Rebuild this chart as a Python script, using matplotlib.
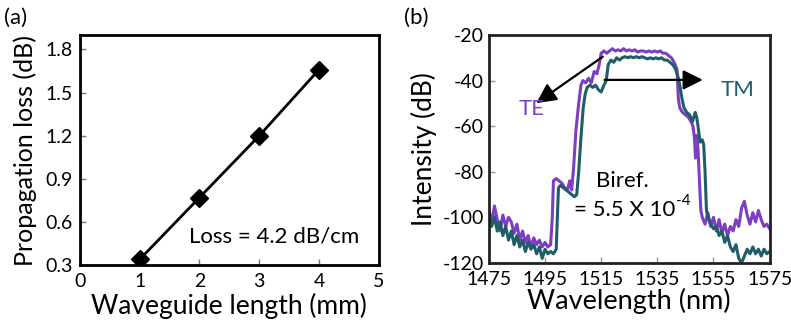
import matplotlib
matplotlib.use('Agg')
import matplotlib.pyplot as plt

plt.rcParams['font.family'] = ['Lato', 'DejaVu Sans']
plt.rcParams['axes.unicode_minus'] = False

# (a) propagation loss vs waveguide length
length_mm = [1, 2, 3, 4]
loss_db = [0.34, 0.77, 1.20, 1.66]

# (b) transmission spectra
te_wl = [1475, 1476, 1477, 1478, 1479, 1480, 1481, 1482, 1483, 1484, 1485, 1486,
         1487, 1488, 1489, 1490, 1491, 1492, 1493, 1494, 1495, 1496, 1497, 1497.6,
         1498, 1499, 1500, 1501, 1502, 1503, 1503.8, 1504.5, 1505.2, 1506, 1507,
         1507.8, 1508.5, 1509.5, 1510.5, 1511.5, 1512.5, 1513.5, 1514.3, 1515,
         1516, 1517, 1518, 1519, 1520, 1521, 1522, 1523, 1524, 1525, 1526, 1527,
         1528, 1529, 1530, 1531, 1532, 1533, 1534, 1535, 1536, 1537, 1538, 1539,
         1540, 1541, 1542, 1542.5, 1543, 1544, 1545, 1546, 1547, 1547.7, 1548.2,
         1548.6, 1549, 1549.5, 1550, 1550.5, 1551, 1552, 1553, 1554, 1555, 1556,
         1557, 1558, 1559, 1560, 1561, 1562, 1563, 1564, 1565, 1566, 1567, 1568,
         1569, 1570, 1571, 1572, 1573, 1574, 1575]
te_db = [-96, -103, -95, -101, -106, -99, -104, -100, -102, -107, -103, -110,
         -106, -111, -108, -113, -109, -112, -110, -113, -111, -113, -112, -100,
         -84, -83, -84, -85, -87, -88, -84, -88, -78, -62, -50,
         -42, -40, -41, -39, -41, -36, -37, -33, -28,
         -27, -28, -27, -26, -27, -26.5, -27, -26, -27, -26.5, -27, -26.5,
         -27.5, -27, -27, -27.5, -27, -27.5, -27, -27.5, -27, -28, -28, -29,
         -30, -32, -35, -48, -52, -54, -55, -56, -58, -60, -65,
         -74, -64, -70, -84, -97, -100, -103, -98, -104, -100, -106,
         -101, -107, -103, -108, -104, -106, -101, -104, -96, -93, -99, -103,
         -98, -102, -97, -101, -104, -103, -105]

tm_wl = [1475, 1476, 1477, 1478, 1479, 1480, 1481, 1482, 1483, 1484, 1485, 1486,
         1487, 1488, 1489, 1490, 1491, 1492, 1493, 1494, 1495, 1496, 1497, 1498,
         1499, 1499.4, 1499.8, 1500.5, 1501.5, 1502.5, 1503.5, 1504.5, 1505.5,
         1506.3, 1507, 1507.8, 1508.6, 1509.3, 1510, 1511, 1512, 1513, 1514, 1515,
         1516, 1516.8, 1517.5, 1518.5, 1519.5, 1520.5, 1521.5, 1522.5, 1523.5,
         1524.5, 1525.5, 1526.5, 1527.5, 1528.5, 1529.5, 1530.5, 1531.5, 1532.5,
         1533.5, 1534.5, 1535.5, 1536.5, 1537.5, 1538.5, 1539.5, 1540.5, 1541.5,
         1542.3, 1543, 1543.8, 1544.5, 1545.5, 1546.5, 1547.5, 1548, 1548.5, 1549,
         1549.5, 1550.2, 1551, 1551.5, 1552, 1552.5, 1553, 1554, 1555, 1556, 1557,
         1558, 1559, 1560, 1561, 1562, 1563, 1564, 1565, 1566, 1567, 1568, 1569,
         1570, 1571, 1572, 1573, 1574, 1575]
tm_db = [-97, -104, -100, -106, -102, -108, -104, -110, -106, -112, -108, -113,
         -110, -115, -111, -114, -112, -116, -113, -118, -114, -116, -115, -116,
         -114, -100, -87, -86, -87, -88, -89, -90, -91,
         -90, -80, -65, -52, -46, -43, -42, -43, -42, -44, -45,
         -42, -40, -33, -31, -32, -30, -31, -30, -29.5,
         -30, -29.5, -30, -29.5, -30, -29.5, -30, -30.5, -30,
         -30.5, -30, -30.5, -30, -31, -31, -32, -33, -35,
         -38, -42, -48, -52, -54, -55, -58, -56, -54, -56,
         -60, -67, -66, -68, -80, -97, -100, -103, -105, -104, -108,
         -106, -111, -108, -113, -115, -112, -118, -120, -117, -114, -116, -113,
         -116, -114, -117, -114, -116, -115]

purple = '#7d3ec4'
teal = '#1f5d68'

fig = plt.figure(figsize=(7.91, 3.21), dpi=100)

# ---- panel (a)
ax1 = fig.add_axes([0.101, 0.174, 0.378, 0.717])
ax1.plot(length_mm, loss_db, color='black', lw=2, marker='D', markersize=9)
ax1.set_xlim(0, 5)
ax1.set_ylim(0.3, 1.9)
ax1.set_xticks([0, 1, 2, 3, 4, 5])
ax1.set_yticks([0.3, 0.6, 0.9, 1.2, 1.5, 1.8])
ax1.set_yticklabels(['0.3', '0.6', '0.9', '1.2', '1.5', '1.8'])
ax1.tick_params(direction='in', length=4, width=1, color='#777777', labelsize=14)
ax1.tick_params(axis='x', pad=6)
ax1.tick_params(axis='y', pad=5)
for s in ax1.spines.values():
    s.set_linewidth(2)
ax1.set_xlabel('Waveguide length (mm)', fontsize=19, labelpad=2)
ax1.set_ylabel('Propagation loss (dB)', fontsize=18, labelpad=6)
ax1.text(3.25, 0.50, 'Loss = 4.2 dB/cm', fontsize=16, ha='center', va='center')
fig.text(0.005, 0.945, '(a)', fontsize=16, va='center')

# ---- panel (b)
ax2 = fig.add_axes([0.618, 0.181, 0.355, 0.710])
ax2.plot(te_wl, te_db, color=purple, lw=2.2)
ax2.plot(tm_wl, tm_db, color=teal, lw=2.2)
ax2.set_xlim(1475, 1575)
ax2.set_ylim(-120, -20)
ax2.set_xticks([1475, 1495, 1515, 1535, 1555, 1575])
ax2.set_yticks([-20, -40, -60, -80, -100, -120])
ax2.tick_params(direction='in', length=4, width=1, color='#999999', labelsize=14)
ax2.tick_params(axis='x', pad=6)
for s in ax2.spines.values():
    s.set_linewidth(2)
    s.set_color('#222222')
ax2.set_xlabel('Wavelength (nm)', fontsize=19.5, labelpad=0)
ax2.set_ylabel('Intensity (dB)', fontsize=19, labelpad=4)

ax2.annotate('', xy=(1491.9, -49.9), xytext=(1515.6, -29.5),
             arrowprops=dict(arrowstyle='-|>', color='black', lw=1.6,
                             mutation_scale=30, shrinkA=0, shrinkB=0))
ax2.annotate('', xy=(1551.2, -39.7), xytext=(1516.2, -39.7),
             arrowprops=dict(arrowstyle='-|>', color='black', lw=1.6,
                             mutation_scale=30, shrinkA=0, shrinkB=0))
ax2.text(1490.3, -52.5, 'TE', color=purple, fontsize=16, ha='center', va='center')
ax2.text(1563.5, -44, 'TM', color=teal, fontsize=16, ha='center', va='center')
ax2.text(1522.5, -84, 'Biref.', fontsize=16, ha='center', va='center')
base = ax2.text(1523.5, -97, '= 5.5 X 10', fontsize=16, ha='center', va='center')
ax2.annotate('-4', xy=(1.0, 0.62), xycoords=base, fontsize=11,
             ha='left', va='bottom')
fig.text(0.511, 0.945, '(b)', fontsize=16, va='center')

fig.savefig('out.png', dpi=100)
